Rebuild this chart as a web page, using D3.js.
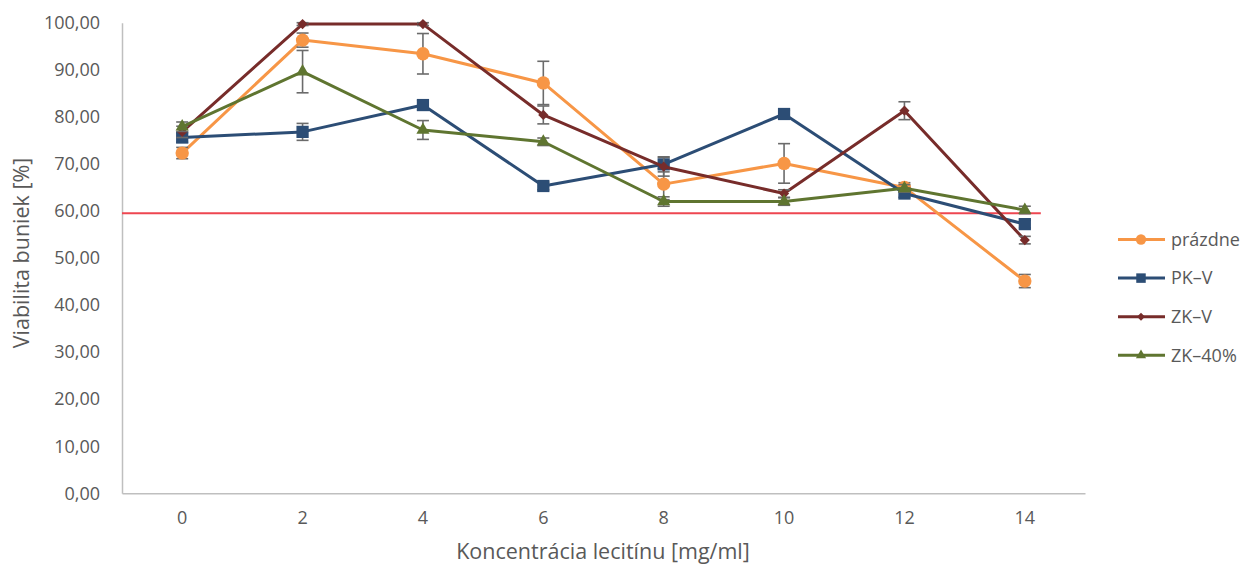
<!DOCTYPE html>
<html>
<head>
<meta charset="utf-8">
<script src="https://cdn.jsdelivr.net/npm/d3@7"></script>
<style>
html,body{margin:0;padding:0;background:#fff;}
svg{display:block;}
</style>
</head>
<body>
<svg id="chart" width="1248" height="568"></svg>
<script>
// ---- data ----
const categories = ["0","2","4","6","8","10","12","14"];
const seriesNames = ["prázdne","PK–V","ZK–V","ZK–40%"];
const prazdne   = [72.3, 96.3, 93.4, 87.2, 65.7, 70.1, 65.0, 45.1];
const pkV       = [75.6, 76.8, 82.5, 65.3, 69.9, 80.6, 63.7, 57.2];
const zkV       = [76.8, 99.7, 99.7, 80.4, 69.4, 63.7, 81.3, 53.8];
const zk40      = [77.9, 89.6, 77.2, 74.7, 62.0, 62.0, 64.8, 60.2];
const errPrazdne = [1.2, 1.5, 4.3, 4.6, 3.3, 4.2, 1.0, 1.4];
const errPkV     = [1.0, 1.8, 1.0, 0.8, 1.6, 0.8, 0.8, 0.8];
const errZkV     = [1.2, 0.3, 0.3, 1.9, 2.0, 0.8, 1.9, 0.8];
const errZk40    = [1.0, 4.5, 2.0, 0.8, 1.0, 0.8, 0.8, 0.8];
const yTicks = [0,10,20,30,40,50,60,70,80,90,100];
const thresholdValue = 59.5;
const thresholdEndCategory = "14";
const xTitle = "Koncentrácia lecitínu [mg/ml]";
const yTitle = "Viabilita buniek [%]";

// ---- layout ----
const svg = d3.select("#chart");
const mLeft = 122, mRight = 1085, mTop = 22.7, mBottom = 493.3;
const x = d3.scaleBand().domain(categories).range([mLeft, mRight]);
const y = d3.scaleLinear().domain([0, 100]).range([mBottom, mTop]);
const cx = c => x(c) + x.bandwidth() / 2;

const colors = ["#F79646", "#2C4D75", "#772C2A", "#5F7530"];
const values = [prazdne, pkV, zkV, zk40];
const errs = [errPrazdne, errPkV, errZkV, errZk40];

// symbol generators (diamond = rotated square, like Excel)
const symDefs = [
  {type: d3.symbolCircle, size: 140, rot: 0},
  {type: d3.symbolSquare, size: 150, rot: 0},
  {type: d3.symbolSquare, size: 52, rot: 45},
  {type: d3.symbolTriangle, size: 75, rot: 0}
];

const textColor = "#595959";
const sansFont = "'Open Sans', sans-serif";

// axes
const yAxis = svg.append("g").attr("transform", `translate(${mLeft},0)`)
  .call(d3.axisLeft(y).tickValues(yTicks).tickSize(0).tickPadding(22)
    .tickFormat(d => d3.format(".2f")(d).replace(".", ",")));
yAxis.select(".domain").attr("stroke", "#BFBFBF").attr("stroke-width", 1.5);
yAxis.selectAll("text").attr("fill", textColor).style("font-family", sansFont).style("font-size", "18px");

const xAxis = svg.append("g").attr("transform", `translate(0,${mBottom})`)
  .call(d3.axisBottom(x).tickSize(0).tickPadding(18));
xAxis.select(".domain").attr("stroke", "#BFBFBF").attr("stroke-width", 1.5);
xAxis.selectAll("text").attr("fill", textColor).style("font-family", sansFont).style("font-size", "18px");

// axis titles
svg.append("text").attr("x", 603).attr("y", 559)
  .attr("text-anchor", "middle").attr("fill", textColor)
  .style("font-family", sansFont).style("font-size", "21.5px").text(xTitle);
svg.append("text").attr("transform", `translate(29,253) rotate(-90)`)
  .attr("text-anchor", "middle").attr("fill", textColor)
  .style("font-family", sansFont).style("font-size", "21.5px").text(yTitle);

// threshold line
svg.append("line").attr("x1", mLeft).attr("x2", cx(thresholdEndCategory) + 16)
  .attr("y1", y(thresholdValue)).attr("y2", y(thresholdValue))
  .attr("stroke", "#EE4650").attr("stroke-width", 2);

// series
const line = d3.line().x((d, i) => cx(categories[i])).y(d => y(d));
values.forEach((vals, s) => {
  const g = svg.append("g");
  g.append("path").datum(vals).attr("d", line).attr("fill", "none")
    .attr("stroke", colors[s]).attr("stroke-width", 3).attr("stroke-linejoin", "round");
  vals.forEach((v, i) => {
    const e = errs[s][i], px = cx(categories[i]);
    const eb = g.append("g").attr("stroke", "#6B6B6B").attr("stroke-width", 1.6);
    eb.append("line").attr("x1", px).attr("x2", px).attr("y1", y(v + e)).attr("y2", y(v - e));
    [v + e, v - e].forEach(t => eb.append("line").attr("x1", px - 6).attr("x2", px + 6).attr("y1", y(t)).attr("y2", y(t)));
  });
  const sd = symDefs[s];
  g.selectAll("path.mk").data(vals).join("path").attr("class", "mk")
    .attr("transform", (d, i) => `translate(${cx(categories[i])},${y(d)}) rotate(${sd.rot})`)
    .attr("d", d3.symbol().type(sd.type).size(sd.size))
    .attr("fill", colors[s]);
});

// legend
const legY0 = 239.5, legDy = 38.6;
seriesNames.forEach((name, s) => {
  const ly = legY0 + s * legDy;
  const lg = svg.append("g");
  const sd = symDefs[s];
  lg.append("line").attr("x1", 1118).attr("x2", 1165).attr("y1", ly).attr("y2", ly)
    .attr("stroke", colors[s]).attr("stroke-width", 3);
  lg.append("path").attr("transform", `translate(1141,${ly}) rotate(${sd.rot})`)
    .attr("d", d3.symbol().type(sd.type).size(sd.size * 0.6)).attr("fill", colors[s]);
  lg.append("text").attr("x", 1171).attr("y", ly).attr("dy", "0.35em")
    .attr("fill", textColor).style("font-family", sansFont).style("font-size", "18px").text(name);
});
</script>
</body>
</html>
